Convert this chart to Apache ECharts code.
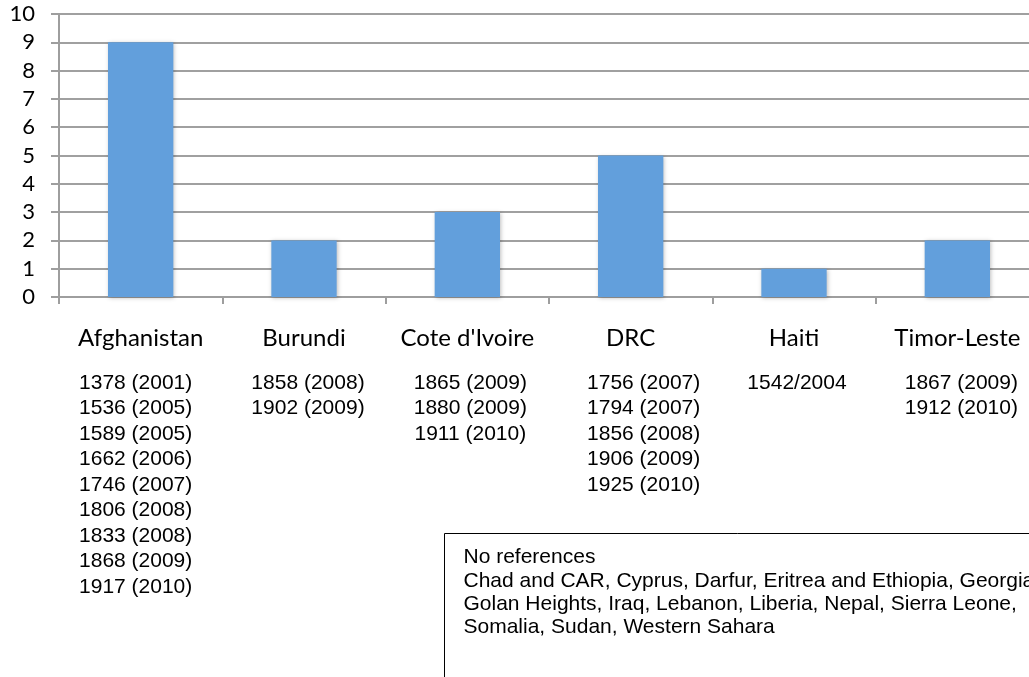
<!DOCTYPE html>
<html>
<head>
<meta charset="utf-8">
<script src="https://cdn.jsdelivr.net/npm/echarts@6/dist/echarts.min.js"></script>
<style>
	html, body { margin: 0; padding: 0; background: #fff; }
	#chartBox { width: 1029px; height: 677px; }
</style>
</head>
<body>
<div id="chartBox"></div>
<script>
// 数据
var countries = ['Afghanistan', 'Burundi', "Cote d'Ivoire", 'DRC', 'Haiti', 'Timor-Leste'];
var counts = [9, 2, 3, 5, 1, 2];
var resolutions = [
	['1378 (2001)', '1536 (2005)', '1589 (2005)', '1662 (2006)', '1746 (2007)', '1806 (2008)', '1833 (2008)', '1868 (2009)', '1917 (2010)'],
	['1858 (2008)', '1902 (2009)'],
	['1865 (2009)', '1880 (2009)', '1911 (2010)'],
	['1756 (2007)', '1794 (2007)', '1856 (2008)', '1906 (2009)', '1925 (2010)'],
	['1542/2004'],
	['1867 (2009)', '1912 (2010)']
];
var noRefTitle = 'No references';
var noRefLines = [
	'Chad and CAR, Cyprus, Darfur, Eritrea and Ethiopia, Georgia,',
	'Golan Heights, Iraq, Lebanon, Liberia, Nepal, Sierra Leone,',
	'Somalia, Sudan, Western Sahara'
];

// 列表水平偏移（布局）
var listShift = [-5, 4, 3, 13, 3, 4];

var myChart = echarts.init(document.getElementById('chartBox'));

var rich = {
	name: { fontFamily: 'Lato', fontSize: 24, color: '#000', lineHeight: 64 }
};
listShift.forEach(function (s, i) {
	rich['list' + i] = {
		fontFamily: 'Liberation Sans', fontSize: 21, color: '#000', lineHeight: 25.5,
		padding: s > 0 ? [0, 0, 0, 2 * s] : [0, -2 * s, 0, 0]
	};
});

myChart.setOption({
	animation: false,
	grid: { left: 59, width: 980, top: 14, height: 283, outerBoundsMode: 'none', containLabel: false },
	xAxis: {
		type: 'category',
		data: countries,
		axisLine: { lineStyle: { color: '#9e9e9e', width: 2 } },
		axisTick: { show: true, length: 7, lineStyle: { color: '#9e9e9e', width: 2 } },
		axisLabel: {
			interval: 0,
			margin: 9,
			verticalAlign: 'top',
			formatter: function (val, idx) {
				var s = '{name|' + val + '}';
				resolutions[idx].forEach(function (r) {
					s += '\n{list' + idx + '|' + r + '}';
				});
				return s;
			},
			rich: rich
		}
	},
	yAxis: {
		type: 'value',
		min: 0,
		max: 10,
		interval: 1,
		axisLine: { show: true, lineStyle: { color: '#9e9e9e', width: 2 } },
		axisTick: { show: true, length: 8, lineStyle: { color: '#9e9e9e', width: 2 } },
		axisLabel: { fontFamily: 'Lato', fontSize: 22, color: '#000', margin: 24 },
		splitLine: { lineStyle: { color: '#a0a0a0', width: 2 } }
	},
	series: [{
		type: 'bar',
		data: counts,
		barWidth: '40%',
		itemStyle: {
			color: '#629fdc',
			shadowColor: 'rgba(0,0,0,0.25)',
			shadowBlur: 4,
			shadowOffsetX: 1,
			shadowOffsetY: 1
		}
	}],
	graphic: [{
		type: 'group',
		left: 444,
		top: 533,
		children: [
			{ type: 'rect', shape: { x: 0, y: 0, width: 700, height: 200 }, style: { fill: '#fff', stroke: '#000', lineWidth: 1 } },
			{ type: 'text', x: 19, y: 13, style: { text: noRefTitle, fontFamily: 'Liberation Sans', fontSize: 21, fill: '#000' } },
			{ type: 'text', x: 19, y: 36, style: { text: noRefLines.join('\n'), fontFamily: 'Liberation Sans', fontSize: 21, lineHeight: 23, fill: '#000' } }
		]
	}]
});
</script>
</body>
</html>
